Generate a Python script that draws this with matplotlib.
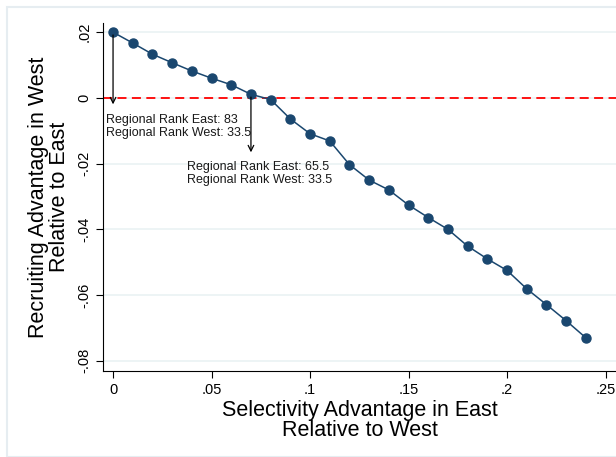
import numpy as np
import matplotlib.pyplot as plt
from matplotlib.patches import Rectangle

plt.rcParams['font.family'] = ['Liberation Sans', 'DejaVu Sans']

# selectivity advantage (x) and recruiting advantage (y)
selectivity = [0.00, 0.01, 0.02, 0.03, 0.04, 0.05, 0.06, 0.07, 0.08, 0.09,
               0.10, 0.11, 0.12, 0.13, 0.14, 0.15, 0.16, 0.17, 0.18, 0.19,
               0.20, 0.21, 0.22, 0.23, 0.24]
recruiting = [0.0200, 0.0167, 0.0133, 0.0107, 0.0082, 0.0060, 0.0040, 0.0011,
              -0.0005, -0.0064, -0.0109, -0.0131, -0.0203, -0.0250, -0.0280,
              -0.0326, -0.0364, -0.0400, -0.0451, -0.0490, -0.0525, -0.0581,
              -0.0629, -0.0678, -0.0730]

x_ticks = [0, 0.05, 0.1, 0.15, 0.2, 0.25]
x_labels = ['0', '.05', '.1', '.15', '.2', '.25']
y_ticks = [0.02, 0, -0.02, -0.04, -0.06, -0.08]
y_labels = ['.02', '0', '-.02', '-.04', '-.06', '-.08']

# arrow x, arrow start, arrow end, text x, text centre y, text
notes = [
    (0.00, 0.0200, -0.0028, -0.0036, -0.0087, 'Regional Rank East: 83\nRegional Rank West: 33.5'),
    (0.07, 0.0011, -0.0174, 0.0376, -0.0230, 'Regional Rank East: 65.5\nRegional Rank West: 33.5'),
]

navy = '#1a476f'

fig = plt.figure(figsize=(6.16, 4.57), dpi=100)
fig.patches.append(Rectangle((7 / 616, 0), 1, 1 - 7 / 457, transform=fig.transFigure,
                             fill=False, edgecolor='#e6edf1', lw=1.5))
ax = fig.add_axes([103 / 616, 1 - 371 / 457, 1 - 103 / 616, (371 - 23) / 457])

ax.set_xlim(-0.0051, 0.2553)
ax.set_ylim(-0.0831, 0.0228)

for y in y_ticks:
    ax.axhline(y, color='#eaf2f3', lw=1.2, zorder=0)

ax.axhline(0, color='#ff0000', lw=1.3, ls=(0, (5, 3)), zorder=1)
ax.plot(selectivity, recruiting, color=navy, lw=1.1, marker='o', ms=6.5,
        markerfacecolor=navy, markeredgecolor=navy, zorder=3)

for xa, y0, y1, xt, yt, txt in notes:
    ax.annotate('', xy=(xa, y1), xytext=(xa, y0),
                arrowprops=dict(arrowstyle='->', color='black', lw=0.9))
    ax.text(xt, yt, txt, fontsize=9, va='center', ha='left',
            linespacing=1.05, color='#1a1a1a')

ax.spines['top'].set_visible(False)
ax.spines['right'].set_visible(False)
ax.set_xticks(x_ticks)
ax.set_xticklabels(x_labels, fontsize=10.5)
ax.set_yticks(y_ticks)
ax.set_yticklabels(y_labels, fontsize=10.5, rotation=90, va='center')
ax.tick_params(length=5, width=0.8)

ax.set_xlabel('Selectivity Advantage in East\nRelative to West', fontsize=15.5,
              linespacing=0.98, labelpad=2)
ax.set_ylabel('Recruiting Advantage in West\nRelative to East', fontsize=15.5,
              linespacing=1.0, labelpad=5)

fig.savefig('out.png', dpi=100)
